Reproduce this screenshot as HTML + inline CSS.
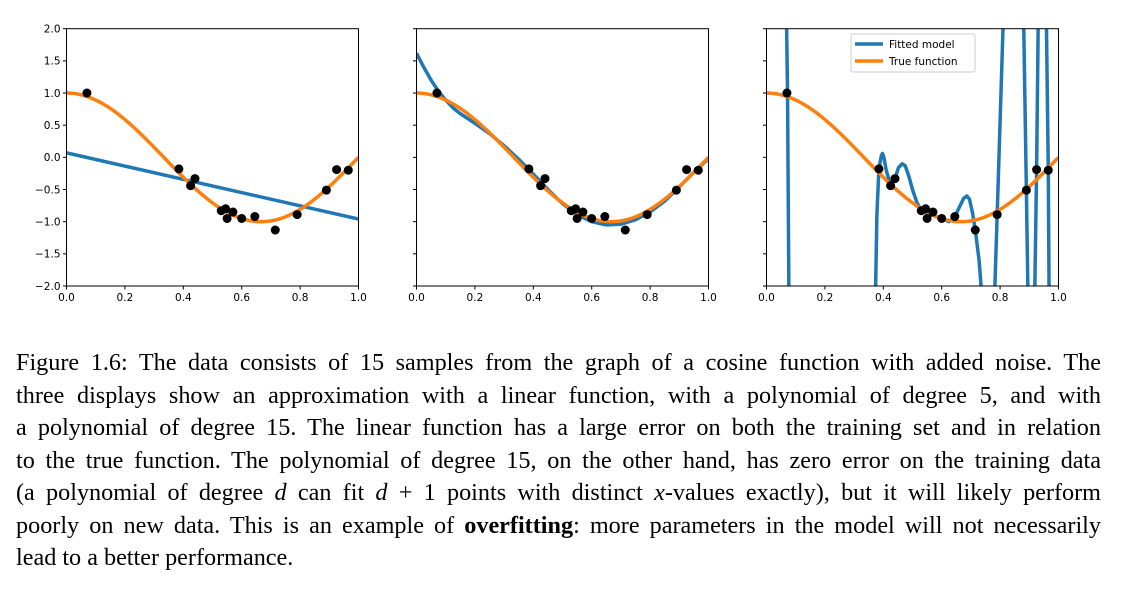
<!DOCTYPE html>
<html><head><meta charset="utf-8">
<style>
body{margin:0;background:#fff;width:1126px;height:589px;overflow:hidden;position:relative}
svg{position:absolute;left:0;top:0}
.cap{position:absolute;left:16px;width:1085px;top:347px;font-family:"Liberation Serif",serif;font-size:24.2px;line-height:32.5px;color:#000}
.cap div{text-align:justify;text-align-last:justify;white-space:nowrap}
.cap div.last{text-align-last:left}
.tk{font-family:"DejaVu Sans","Liberation Sans",sans-serif;font-size:10.5px;fill:#000}
</style></head><body>
<svg id="fig" width="1126" height="330"></svg>
<div class="cap">
<div>Figure 1.6: The data consists of 15 samples from the graph of a cosine function with added noise. The</div>
<div>three displays show an approximation with a linear function, with a polynomial of degree 5, and with</div>
<div>a polynomial of degree 15. The linear function has a large error on both the training set and in relation</div>
<div>to the true function. The polynomial of degree 15, on the other hand, has zero error on the training data</div>
<div>(a polynomial of degree <i>d</i> can fit <i>d</i> + 1 points with distinct <i>x</i>-values exactly), but it will likely perform</div>
<div>poorly on new data. This is an example of <b>overfitting</b>: more parameters in the model will not necessarily</div>
<div class="last">lead to a better performance.</div>
</div>
<script>
const sampleX=[0.07,0.385,0.425,0.44,0.53,0.545,0.55,0.57,0.6,0.645,0.715,0.79,0.89,0.925,0.965];
const sampleY=[1.0,-0.18,-0.44,-0.33,-0.83,-0.80,-0.95,-0.85,-0.95,-0.92,-1.13,-0.89,-0.51,-0.19,-0.2];
const linX=[0,1];
const linY=[0.07,-0.96];
const deg5X=[0,0.025,0.05,0.075,0.1,0.125,0.15,0.2,0.25,0.3,0.35,0.4,0.45,0.5,0.55,0.6,0.65,0.7,0.75,0.8,0.85,0.9,0.95,1.0];
const deg5Y=[1.62,1.4,1.2,1.03,0.89,0.77,0.68,0.53,0.37,0.18,-0.03,-0.26,-0.5,-0.72,-0.89,-1.0,-1.05,-1.04,-0.97,-0.85,-0.68,-0.46,-0.23,-0.02];
const deg15X=[0.066,0.072,0.078,0.37,0.378,0.385,0.393,0.397,0.402,0.41,0.425,0.44,0.452,0.465,0.475,0.488,0.5,0.515,0.53,0.545,0.55,0.57,0.6,0.625,0.645,0.66,0.675,0.686,0.695,0.705,0.715,0.728,0.74,0.78,0.79,0.812,0.88,0.89,0.896,0.918,0.925,0.931,0.958,0.965,0.968,1.0];
const deg15Y=[3,1.0,-3,-3,-0.9,-0.18,0.02,0.06,0.0,-0.2,-0.44,-0.33,-0.16,-0.1,-0.13,-0.3,-0.5,-0.7,-0.83,-0.82,-0.9,-0.9,-0.95,-1.0,-0.92,-0.78,-0.64,-0.6,-0.65,-0.85,-1.13,-1.6,-2.3,-2.3,-0.89,2.3,2.3,-0.51,-2.3,-2.3,-0.19,2.3,2.3,-0.2,-2.3,-2.3];
const xTicks=[0,0.2,0.4,0.6,0.8,1.0];
const yTicks=[-2,-1.5,-1,-0.5,0,0.5,1,1.5,2];
const panelLeft=[66.5,416.5,766.5];
const NS='http://www.w3.org/2000/svg';
const svg=document.getElementById('fig');
const W=292,T=28.7,B=286;
function mk(tag,attrs,parent){const e=document.createElementNS(NS,tag);for(const k in attrs)e.setAttribute(k,attrs[k]);(parent||svg).appendChild(e);return e;}
const fitsX=[linX,deg5X,deg15X],fitsY=[linY,deg5Y,deg15Y];
panelLeft.forEach((L,p)=>{
  const sx=v=>L+v*W, sy=v=>T+(2-v)/4*(B-T);
  const g=mk('g',{});
  
  
  const cp=mk('clipPath',{id:'c'+p},g);mk('rect',{x:L,y:T,width:W,height:B-T},cp);
  const pl=mk('g',{'clip-path':'url(#c'+p+')'},g);
  const fx=fitsX[p],fy=fitsY[p];
  let d='';fx.forEach((x,i)=>{d+=(i?'L':'M')+sx(x).toFixed(2)+','+sy(fy[i]).toFixed(2);});
  const fl=mk('path',{d:d,fill:'none',stroke:'#1f77b4','stroke-width':3.5,'stroke-linejoin':'round'},pl);
  
  
  let dt='';for(let i=0;i<=200;i++){const x=i/200;dt+=(i?'L':'M')+sx(x).toFixed(2)+','+sy(Math.cos(1.5*Math.PI*x)).toFixed(2);}
  const tl=mk('path',{d:dt,fill:'none',stroke:'#ff7f0e','stroke-width':3.5},pl);
  
  
  sampleX.forEach((x,i)=>{const c=mk('circle',{cx:sx(x),cy:sy(sampleY[i]),r:4.5,fill:'#000'},pl);
    
    });
  mk('rect',{x:L,y:T,width:W,height:B-T,fill:'none',stroke:'#000','stroke-width':1},g);
  xTicks.forEach(v=>{mk('line',{x1:sx(v),x2:sx(v),y1:B,y2:B+3.5,stroke:'#000'},g);
    const t=mk('text',{x:sx(v),y:B+15,'text-anchor':'middle',class:'tk'},g);t.textContent=v.toFixed(1);
    
    });
  yTicks.forEach(v=>{mk('line',{x1:L,x2:L-3.5,y1:sy(v),y2:sy(v),stroke:'#000'},g);
    if(p===0){const t=mk('text',{x:L-6,y:sy(v)+3.8,'text-anchor':'end',class:'tk'},g);t.textContent=(v<0?'\u2212':'')+Math.abs(v).toFixed(1);
    
    }});
  if(p===2){
    const lg=mk('g',{},g);
    
    
    mk('rect',{x:851,y:34,width:124,height:38,rx:2,fill:'#fff',stroke:'#ccc'},lg);
    mk('line',{x1:855,x2:883,y1:44,y2:44,stroke:'#1f77b4','stroke-width':3.5},lg);
    mk('line',{x1:855,x2:883,y1:61,y2:61,stroke:'#ff7f0e','stroke-width':3.5},lg);
    const a=mk('text',{x:889,y:48,class:'tk'},lg);a.textContent='Fitted model';
    
    
    const b=mk('text',{x:889,y:65,class:'tk'},lg);b.textContent='True function';
    
    
  }
});
</script>
</body></html>
